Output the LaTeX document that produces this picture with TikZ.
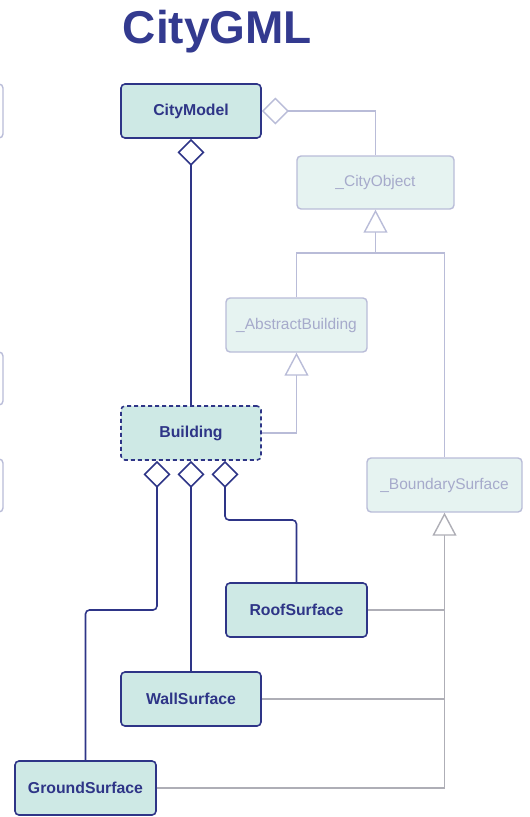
\documentclass[tikz,border=0pt]{standalone}
\usepackage{fontspec}
\setmainfont{Liberation Sans}
\usetikzlibrary{arrows.meta,calc}
\definecolor{navy}{HTML}{2E3587}
\definecolor{titleblue}{HTML}{333A8F}
\definecolor{tealfill}{HTML}{CEE9E5}
\definecolor{fadefill}{HTML}{E6F3F1}
\definecolor{fadeline}{HTML}{B9BCD8}
\definecolor{fadetext}{HTML}{A6AACB}
\definecolor{grayline}{HTML}{AEAEB6}
\tikzset{
  darkbox/.style={draw=navy, fill=tealfill, line width=1.6pt, rounded corners=4pt,
    text=navy, font=\fontsize{15.8}{18}\selectfont\bfseries, inner sep=0pt},
  fadebox/.style={draw=fadeline, fill=fadefill, line width=1.4pt, rounded corners=4pt,
    text=fadetext, font=\fontsize{15.5}{18}\selectfont, inner sep=0pt},
  darkline/.style={draw=navy, line width=1.6pt, rounded corners=4pt},
  fadeconn/.style={draw=fadeline, line width=1.4pt},
  grayconn/.style={draw=grayline, line width=1.4pt},
  mydia/.tip={Diamond[open, fill=white, length=27pt, width=27pt]},
  mytri/.tip={Triangle[open, fill=white, length=23pt, width=24pt]},
}
\begin{document}
\begin{tikzpicture}[x=1pt,y=-1pt]
\useasboundingbox (0,0) rectangle (530,817);
% partial boxes at the left edge
\begin{scope}
\clip (0,0) rectangle (530,817);
\draw[fadeline, fill=white, line width=1.4pt, rounded corners=4pt] (-40,84) rectangle (3,138);
\draw[fadeline, fill=white, line width=1.4pt, rounded corners=4pt] (-40,352) rectangle (3,405);
\draw[fadeline, fill=white, line width=1.4pt, rounded corners=4pt] (-40,459) rectangle (3,512);
\end{scope}
% title
\node[text=titleblue, font=\fontsize{46}{50}\selectfont\bfseries, anchor=base] (title) at (217.5,43) {CityGML};
% nodes
\node[darkbox, minimum width=140pt, minimum height=54pt] (cm) at (191,111) {CityModel};
\node[fadebox, minimum width=157pt, minimum height=53pt] (co) at (375.5,182.5) {\_CityObject};
\node[fadebox, minimum width=141pt, minimum height=54pt] (ab) at (296.5,325) {\_AbstractBuilding};
\node[darkbox, dash pattern=on 4pt off 3pt, minimum width=140pt, minimum height=54pt] (bd) at (191,433) {Building};
\node[fadebox, minimum width=155pt, minimum height=54pt] (bs) at (444.5,485) {\_BoundarySurface};
\node[darkbox, minimum width=141pt, minimum height=54pt] (rs) at (296.5,610) {RoofSurface};
\node[darkbox, minimum width=140pt, minimum height=54pt] (ws) at (191,699) {WallSurface};
\node[darkbox, minimum width=141pt, minimum height=54pt] (gs) at (85.5,788) {GroundSurface};
% junction points
\coordinate (j1) at (375.5,253);
\coordinate (k1) at (0,610);
\coordinate (k2) at (0,520);
\coordinate (bl) at ([xshift=-34pt]bd.south);
\coordinate (br) at ([xshift=34pt]bd.south);
% generalisations (faded)
\draw[fadeconn] (ab.north) |- (j1) -| (bs.north);
\draw[fadeconn, -mytri] (j1) -- (co.south);
\draw[fadeconn, -mytri] (bd.east) -| (ab.south);
\draw[grayconn, -mytri] (gs.east) -| (bs.south);
\draw[grayconn] (ws.east) -- (ws.east -| bs.south);
\draw[grayconn] (rs.east) -- (rs.east -| bs.south);
% aggregation CityModel -> _CityObject
\draw[fadeconn, mydia-] (cm.east) -| (co.north);
% compositions (dark)
\draw[darkline, mydia-] (bl) -- (bl |- k1) -| (gs.north);
\draw[darkline, mydia-] (cm.south) -- (bd.north);
\draw[darkline, mydia-] (bd.south) -- (ws.north);
\draw[darkline, mydia-] (br) -- (br |- k2) -| (rs.north);
\end{tikzpicture}
\end{document}
